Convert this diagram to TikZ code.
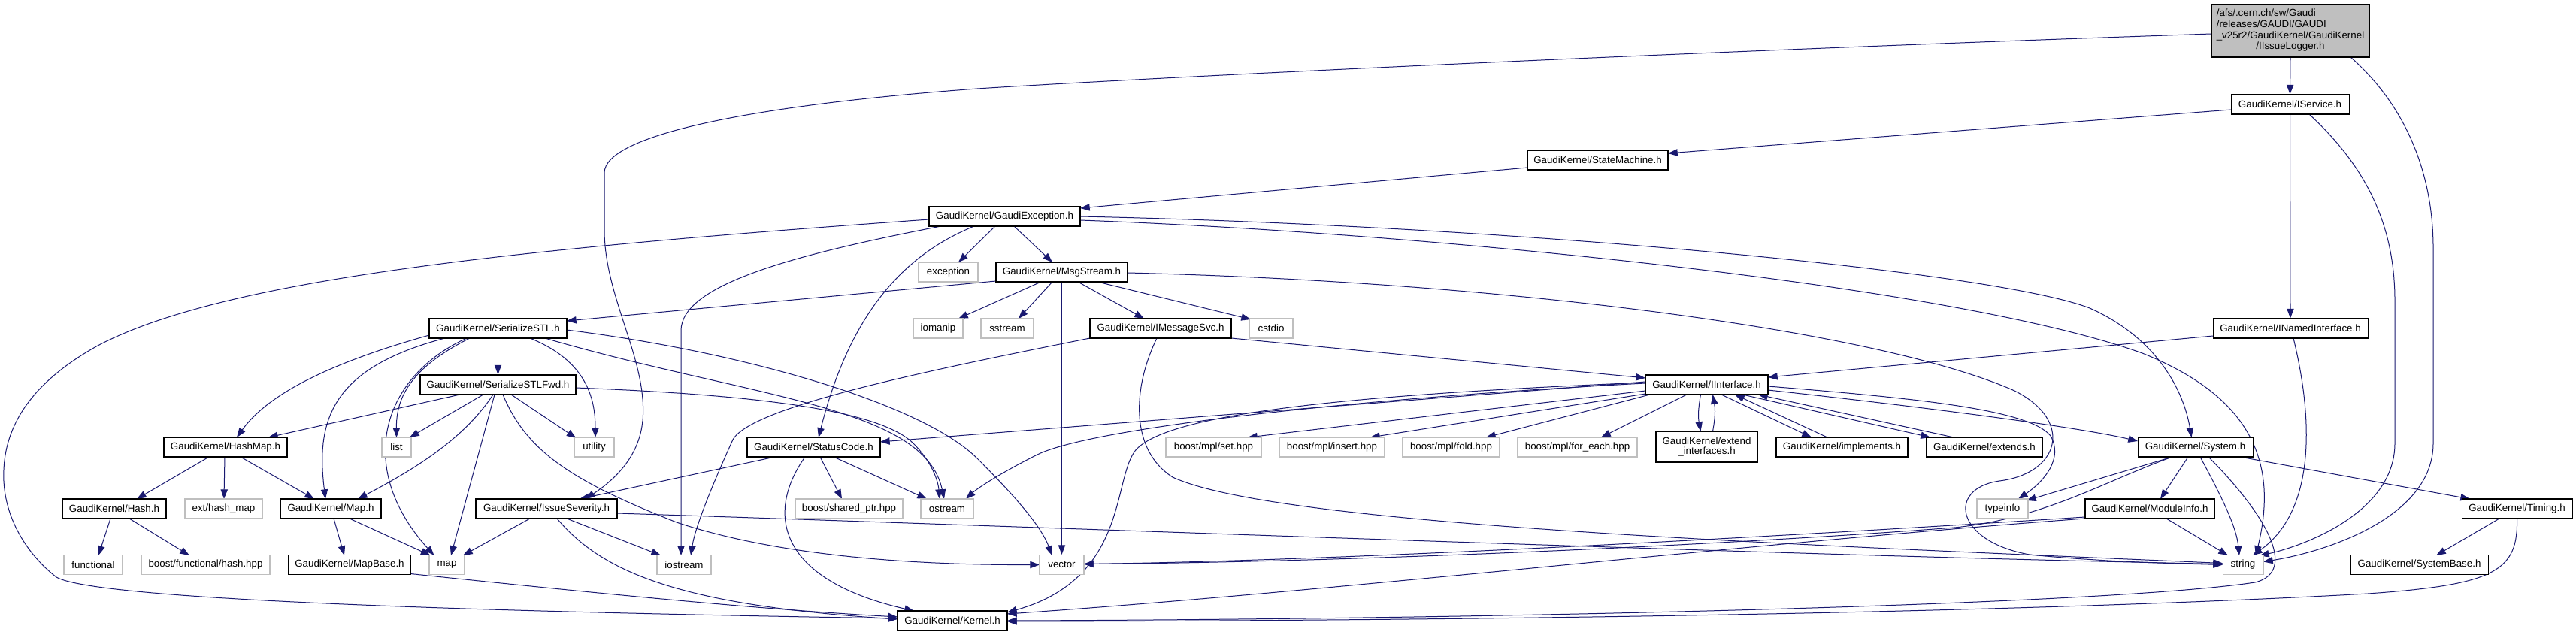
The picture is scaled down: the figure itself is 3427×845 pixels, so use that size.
\documentclass[tikz,border=0pt]{standalone}
\usepackage{fontspec}
\setmainfont{Liberation Sans}
\usetikzlibrary{arrows.meta,calc,backgrounds}
\definecolor{edgeblue}{HTML}{191970}
\definecolor{extgray}{HTML}{BFBFBF}
\begin{document}
\begin{tikzpicture}[x=0.75pt,y=-0.75pt,
  doc/.style={draw=black, fill=white, line width=0.8pt, minimum height=19.5pt, inner xsep=1pt, inner ysep=1pt, font=\fontsize{10}{11}\selectfont, text=black},
  ext/.style={doc, draw=extgray},
  rootbox/.style={doc, fill=extgray},
  dep/.style={draw=edgeblue, line width=0.75pt, -{Triangle[length=9.5pt,width=7pt]}}]
\useasboundingbox (0,0) rectangle (3427,845);
% ---------------- nodes ----------------
\node[rootbox, minimum width=157.5pt, minimum height=52.5pt] (root) at (3047,41)
  {\begin{tabular}{@{}l@{}}/afs/.cern.ch/sw/Gaudi\\/releases/GAUDI/GAUDI\\\_v25r2/GaudiKernel/GaudiKernel\\\multicolumn{1}{@{}c@{}}{/IIssueLogger.h}\end{tabular}};
\node[doc, minimum width=117.75pt] (isvc) at (3046.5,139) {GaudiKernel/IService.h};
\node[doc, minimum width=140.25pt] (stm) at (2125.5,213) {GaudiKernel/StateMachine.h};
\node[doc, minimum width=150.75pt] (gexc) at (1336.5,288) {GaudiKernel/GaudiException.h};
\node[ext, minimum width=59.25pt] (exc) at (1261.5,362) {exception};
\node[doc, minimum width=131.25pt] (msg) at (1412.5,362) {GaudiKernel/MsgStream.h};
\node[ext, minimum width=49.5pt] (iomanip) at (1248,437) {iomanip};
\node[ext, minimum width=52.5pt] (sstream) at (1340,437) {sstream};
\node[doc, minimum width=141pt] (imsg) at (1544,437) {GaudiKernel/IMessageSvc.h};
\node[ext, minimum width=43.5pt] (cstdio) at (1691,437) {cstdio};
\node[doc, minimum width=137.25pt] (sstl) at (662.5,437) {GaudiKernel/SerializeSTL.h};
\node[doc, minimum width=154.5pt] (inamed) at (3047,437) {GaudiKernel/INamedInterface.h};
\node[doc, minimum width=155.25pt] (sfwd) at (662.5,512) {GaudiKernel/SerializeSTLFwd.h};
\node[doc, minimum width=122.25pt] (iif) at (2270.5,512) {GaudiKernel/IInterface.h};
\node[doc, minimum width=123pt] (hashmap) at (300,595) {GaudiKernel/HashMap.h};
\node[ext, minimum width=29.25pt] (list) at (527.5,595) {list};
\node[ext, minimum width=39.75pt] (utility) at (790.5,595) {utility};
\node[doc, minimum width=132.75pt] (sc) at (1082.5,595) {GaudiKernel/StatusCode.h};
\node[ext, minimum width=95.25pt] (mset) at (1614.5,595) {boost/mpl/set.hpp};
\node[ext, minimum width=105pt] (mins) at (1772,595) {boost/mpl/insert.hpp};
\node[ext, minimum width=96.75pt] (mfold) at (1930.5,595) {boost/mpl/fold.hpp};
\node[ext, minimum width=119.25pt] (mfe) at (2098.5,595) {boost/mpl/for\_each.hpp};
\node[doc, minimum width=101.25pt, minimum height=30.75pt, align=center, font=\fontsize{10}{10}\selectfont] (extif) at (2270.5,594.5) {GaudiKernel/extend\\\_interfaces.h};
\node[doc, minimum width=131.25pt] (impl) at (2450.5,595) {GaudiKernel/implements.h};
\node[doc, minimum width=115.5pt] (extends) at (2640,595) {GaudiKernel/extends.h};
\node[doc, minimum width=114.75pt] (sys) at (2920.5,595) {GaudiKernel/System.h};
\node[doc, minimum width=103.5pt] (hash) at (152,677) {GaudiKernel/Hash.h};
\node[ext, minimum width=77.25pt] (exthm) at (297.5,677) {ext/hash\_map};
\node[doc, minimum width=100.5pt] (maph) at (440,677) {GaudiKernel/Map.h};
\node[doc, minimum width=141pt] (isev) at (727,677) {GaudiKernel/IssueSeverity.h};
\node[ext, minimum width=107.25pt] (shptr) at (1129.5,677) {boost/shared\_ptr.hpp};
\node[ext, minimum width=52.5pt] (ostream) at (1260,677) {ostream};
\node[ext, minimum width=51pt] (typeinfo) at (2664,677) {typeinfo};
\node[doc, minimum width=129pt] (modinfo) at (2860,677) {GaudiKernel/ModuleInfo.h};
\node[doc, minimum width=110.25pt] (timing) at (3348.5,677) {GaudiKernel/Timing.h};
\node[ext, minimum width=58.5pt] (functional) at (124,751.5) {functional};
\node[ext, minimum width=128.25pt] (bfh) at (273.5,751.5) {boost/functional/hash.hpp};
\node[doc, minimum width=121.5pt] (mapbase) at (465,751.5) {GaudiKernel/MapBase.h};
\node[ext, minimum width=35.25pt] (map) at (594.5,751.5) {map};
\node[ext, minimum width=54pt] (iostream) at (910,751.5) {iostream};
\node[ext, minimum width=44.25pt] (vector) at (1412.5,751.5) {vector};
\node[ext, minimum width=40.5pt] (string) at (2984,751.5) {string};
\node[doc, minimum width=137.25pt] (sysbase) at (3218.5,751.5) {GaudiKernel/SystemBase.h};
\node[doc, minimum width=109.5pt] (kernel) at (1267,826) {GaudiKernel/Kernel.h};
% ---------------- edges ----------------
\begin{pgfonlayer}{background}
\fill[white] (0,0) rectangle (3427,845);
% root
\draw[dep] (root.south) -- (isvc.north);
\draw[dep] ($(root)+(-105,4)$) .. controls (2200,70) and (1500,105) .. (1300,118) .. controls (1000,140) and (804,180) .. (804,230) -- (804,310) .. controls (806,400) and (862,480) .. (855,560) .. controls (850,610) and (815,640) .. ($(isev)+(52,-13)$);
\draw[dep] ($(root)+(80,35)$) .. controls (3200,140) and (3237,230) .. (3237,330) -- (3237,590) .. controls (3237,690) and (3090,735) .. ($(string)+(27,-4)$);
% IService
\draw[dep] ($(isvc)+(-78.5,7)$) -- ($(stm)+(93.5,-9)$);
\draw[dep] (isvc.south) -- (inamed.north);
\draw[dep] ($(isvc)+(25.5,13)$) .. controls (3140,215) and (3186,290) .. (3186,400) -- (3186,590) .. controls (3186,680) and (3070,725) .. ($(string)+(22,-12)$);
% StateMachine
\draw[dep] ($(stm)+(-93.5,10)$) -- ($(gexc)+(100.5,-11)$);
% GaudiException
\draw[dep] ($(gexc)+(-12.5,13)$) -- ($(exc)+(13.5,-13)$);
\draw[dep] ($(gexc)+(12.5,13)$) -- ($(msg)+(-12.5,-13)$);
\draw[dep] ($(gexc)+(-100.5,4)$) .. controls (700,330) and (300,370) .. (130,460) .. controls (40,510) and (2,570) .. (5,640) .. controls (8,700) and (45,745) .. (75,768) .. controls (130,800) and (700,815) .. ($(kernel)+(-73,-3)$);
\draw[dep] ($(gexc)+(-84.5,13)$) .. controls (1050,340) and (906,380) .. (906,440) -- ($(iostream)+(-4,-12.5)$);
\draw[dep] ($(gexc)+(-40.5,13)$) .. controls (1200,340) and (1130,420) .. ($(sc)+(6.5,-13)$);
\draw[dep] ($(gexc)+(100.5,5)$) .. controls (1900,310) and (2600,380) .. (2850,470) .. controls (3000,530) and (3030,620) .. ($(string)+(17,-12.5)$);
\draw[dep] ($(gexc)+(100.5,0)$) .. controls (2000,300) and (2650,360) .. (2780,410) .. controls (2870,450) and (2905,520) .. ($(sys)+(-5,-13)$);
% MsgStream
\draw[dep] ($(msg)+(-27.5,13)$) -- ($(iomanip)+(27,-13)$);
\draw[dep] ($(msg)+(-12.5,13)$) -- ($(sstream)+(15,-13)$);
\draw[dep] (msg.south) -- (vector.north);
\draw[dep] ($(msg)+(21.5,13)$) -- ($(imsg)+(-22,-13)$);
\draw[dep] ($(msg)+(47.5,13)$) -- ($(cstdio)+(-27,-12)$);
\draw[dep] ($(msg)+(-87.5,12)$) -- ($(sstl)+(91.5,-10)$);
\draw[dep] ($(msg)+(87.5,1)$) .. controls (2000,375) and (2500,440) .. (2680,520) .. controls (2760,560) and (2740,630) .. (2660,640) .. controls (2590,650) and (2600,720) .. (2700,738) .. controls (2800,748) and (2900,750) .. ($(string)+(-27,0)$);
% IMessageSvc
\draw[dep] ($(imsg)+(94,13)$) -- ($(iif)+(-81.5,-9)$);
\draw[dep] ($(imsg)+(-94,13)$) .. controls (1250,490) and (1000,540) .. (975,585) .. controls (950,640) and (925,700) .. ($(iostream)+(9,-12.5)$);
\draw[dep] ($(imsg)+(-5,13)$) .. controls (1505,520) and (1505,600) .. (1560,635) .. controls (1700,700) and (2400,725) .. ($(string)+(-27,-2)$);
% SerializeSTL
\draw[dep] ($(sstl)+(-91.5,9)$) .. controls (450,480) and (360,520) .. ($(hashmap)+(15,-13)$);
\draw[dep] ($(sstl)+(-70.5,13)$) .. controls (440,490) and (420,560) .. ($(maph)+(-7,-13)$);
\draw[dep] ($(sstl)+(-41.5,13)$) .. controls (510,500) and (470,620) .. ($(map)+(-17,-12.5)$);
\draw[dep] ($(sstl)+(-37.5,13)$) .. controls (545,490) and (527,530) .. ($(list)+(0,-13)$);
\draw[dep] (sstl.south) -- (sfwd.north);
\draw[dep] ($(sstl)+(42.5,13)$) .. controls (780,480) and (792,530) .. ($(utility)+(1.5,-13)$);
\draw[dep] ($(sstl)+(62.5,13)$) .. controls (1000,530) and (1230,540) .. ($(ostream)+(-4,-13)$);
\draw[dep] ($(sstl)+(91.5,2)$) .. controls (1000,470) and (1230,540) .. (1300,610) .. controls (1350,660) and (1385,700) .. ($(vector)+(-13,-12.5)$);
% SerializeSTLFwd
\draw[dep] ($(sfwd)+(-50.5,13)$) -- ($(hashmap)+(57,-13)$);
\draw[dep] ($(sfwd)+(-19.5,13)$) -- ($(list)+(17.5,-13)$);
\draw[dep] ($(sfwd)+(-6.5,13)$) .. controls (620,580) and (560,620) .. ($(maph)+(36,-13)$);
\draw[dep] ($(sfwd)+(-4.5,13)$) -- ($(map)+(5.5,-12.5)$);
\draw[dep] ($(sfwd)+(6.5,13)$) .. controls (700,600) and (760,640) .. (900,695) .. controls (1050,745) and (1250,752) .. ($(vector)+(-29.5,0)$);
\draw[dep] ($(sfwd)+(17.5,13)$) -- ($(utility)+(-24,-12)$);
\draw[dep] ($(sfwd)+(103.5,4)$) .. controls (1000,525) and (1170,545) .. (1215,590) .. controls (1240,615) and (1248,640) .. ($(ostream)+(-10,-13)$);
% HashMap, Hash, Map, MapBase
\draw[dep] ($(hashmap)+(-22,13)$) -- ($(hash)+(30,-13)$);
\draw[dep] ($(hashmap)+(-1,13)$) -- ($(exthm)+(0.5,-13)$);
\draw[dep] ($(hashmap)+(20,13)$) -- ($(maph)+(-22,-13)$);
\draw[dep] ($(hash)+(-5,13)$) -- ($(functional)+(7,-12.5)$);
\draw[dep] ($(hash)+(20,13)$) -- ($(bfh)+(-21.5,-12.5)$);
\draw[dep] ($(maph)+(4,13)$) -- ($(mapbase)+(-7,-12.5)$);
\draw[dep] ($(maph)+(25,13)$) -- ($(map)+(-22,-12.5)$);
\draw[dep] ($(mapbase)+(81,12)$) .. controls (800,790) and (1000,810) .. ($(kernel)+(-73,-5)$);
% IssueSeverity
\draw[dep] ($(isev)+(-22,13)$) -- ($(map)+(21.5,-12.5)$);
\draw[dep] ($(isev)+(27,13)$) -- ($(iostream)+(-31,-12.5)$);
\draw[dep] ($(isev)+(14,13)$) .. controls (800,760) and (900,805) .. ($(kernel)+(-73,-2)$);
\draw[dep] ($(isev)+(94,6)$) .. controls (1500,705) and (2400,740) .. ($(string)+(-27,-1)$);
% StatusCode
\draw[dep] ($(sc)+(-51.5,13)$) -- ($(isev)+(44,-13)$);
\draw[dep] ($(sc)+(8.5,13)$) -- ($(shptr)+(-9.5,-13)$);
\draw[dep] ($(sc)+(26.5,13)$) -- ($(ostream)+(-27,-13)$);
\draw[dep] ($(sc)+(-11.5,13)$) .. controls (1020,680) and (1030,770) .. ($(kernel)+(-51,-13)$);
% IInterface
\draw[dep] ($(iif)+(-81.5,-4)$) -- ($(sc)+(88.5,-7)$);
\draw[dep] ($(iif)+(-81.5,-2)$) .. controls (1800,530) and (1450,570) .. (1380,605) .. controls (1330,630) and (1300,650) .. ($(ostream)+(25,-13)$);
\draw[dep] ($(iif)+(-81.5,-3)$) .. controls (1800,525) and (1550,550) .. (1510,600) .. controls (1480,640) and (1500,770) .. ($(kernel)+(73,-11)$);
\draw[dep] ($(iif)+(-81.5,8)$) -- ($(mset)+(45.5,-13)$);
\draw[dep] ($(iif)+(-81.5,12)$) -- ($(mins)+(51,-13)$);
\draw[dep] ($(iif)+(-75.5,13)$) -- ($(mfold)+(46.5,-13)$);
\draw[dep] ($(iif)+(-26.5,13)$) -- ($(mfe)+(31.5,-13)$);
\draw[dep] ($(iif)+(-8,13)$) .. controls (2259,545) and (2259,555) .. ($(extif)+(-8,-20.5)$);
\draw[dep] ($(extif)+(8,-20.5)$) .. controls (2282,555) and (2282,545) .. ($(iif)+(8,13)$);
\draw[dep] ($(iif)+(19.5,13)$) -- ($(impl)+(-40.5,-13)$);
\draw[dep] ($(impl)+(-19.5,-13)$) -- ($(iif)+(37.5,13)$);
\draw[dep] ($(iif)+(47.5,13)$) -- ($(extends)+(-72,-13)$);
\draw[dep] ($(extends)+(-41,-13)$) -- ($(iif)+(68.5,13)$);
\draw[dep] ($(iif)+(81.5,7)$) .. controls (2500,535) and (2750,565) .. ($(sys)+(-76.5,-8)$);
\draw[dep] ($(iif)+(81.5,2)$) .. controls (2550,530) and (2700,545) .. (2728,580) .. controls (2745,610) and (2720,640) .. ($(typeinfo)+(21,-13)$);
% INamedInterface
\draw[dep] ($(inamed)+(-103,10)$) -- ($(iif)+(81.5,-10)$);
\draw[dep] ($(inamed)+(4,13)$) .. controls (3078,560) and (3080,680) .. ($(string)+(13,-12.5)$);
% System
\draw[dep] ($(sys)+(-30.5,13)$) -- ($(typeinfo)+(32,-11)$);
\draw[dep] ($(sys)+(-30.5,13)$) .. controls (2800,640) and (2720,690) .. (2600,702) .. controls (2300,725) and (1800,748) .. ($(vector)+(29.5,-1)$);
\draw[dep] ($(sys)+(-9.5,13)$) -- ($(modinfo)+(14,-13)$);
\draw[dep] ($(sys)+(6.5,13)$) .. controls (2955,660) and (2975,700) .. ($(string)+(-5,-12.5)$);
\draw[dep] ($(sys)+(17.5,13)$) .. controls (3010,680) and (3060,760) .. (3000,775) .. controls (2800,805) and (2000,824) .. ($(kernel)+(73,0)$);
\draw[dep] ($(sys)+(59.5,13)$) -- ($(timing)+(-62.5,-13)$);
% ModuleInfo
\draw[dep] ($(modinfo)+(22,13)$) -- ($(string)+(-20,-12.5)$);
\draw[dep] ($(modinfo)+(-86,11)$) .. controls (2400,712) and (1800,746) .. ($(vector)+(29.5,-1)$);
\draw[dep] ($(modinfo)+(-86,13)$) .. controls (2300,725) and (1800,785) .. ($(kernel)+(73,-9)$);
% Timing
\draw[dep] ($(timing)+(-23.5,13)$) -- ($(sysbase)+(22.5,-12.5)$);
\draw[dep] ($(timing)+(0,13)$) .. controls (3350,760) and (3320,778) .. (3150,790) .. controls (2700,815) and (2000,826) .. ($(kernel)+(73,1)$);
\end{pgfonlayer}
\end{tikzpicture}
\end{document}
